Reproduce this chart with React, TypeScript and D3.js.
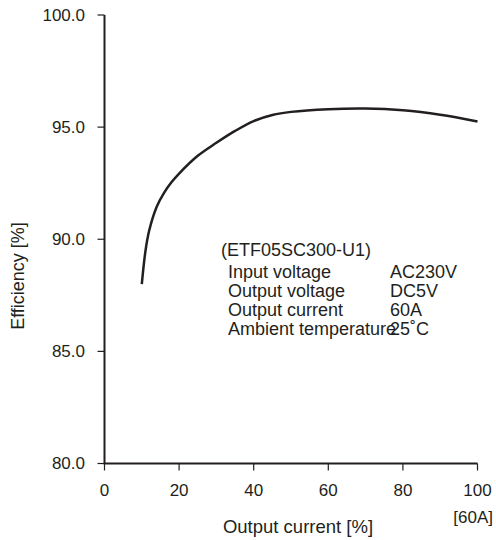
import React from "react";
import * as d3 from "d3";

// load [%] vs efficiency [%]
const load = [10, 11, 12, 14, 16, 18, 20, 25, 30, 35, 40, 45, 50, 60, 70, 80, 90, 100];
const efficiency = [88.0, 89.5, 90.4, 91.45, 92.08, 92.55, 92.93, 93.72, 94.3, 94.83, 95.27, 95.54, 95.68, 95.8, 95.83, 95.75, 95.55, 95.25];

const xTicks = [0, 20, 40, 60, 80, 100];
const yTicks = [80, 85, 90, 95, 100];

const conditions = [
    ["Input voltage", "AC230V"],
    ["Output voltage", "DC5V"],
    ["Output current", "60A"],
    ["Ambient temperature", "25˚C"],
];

const width = 496;
const height = 540;
const ink = "#231f20";
const font = "'Liberation Sans', Arial, sans-serif";

const App = (): JSX.Element => {
    const x = d3.scaleLinear().domain([0, 100]).range([104.5, 477.5]);
    const y = d3.scaleLinear().domain([80, 100]).range([463.5, 15]);

    const line = d3
        .line<number>()
        .x((d, i) => x(load[i]))
        .y((d) => y(d))
        .curve(d3.curveCatmullRom.alpha(0.5));

    return (
        <div style={{ position: "absolute", left: 0, top: 0 }}>
            <svg width={width} height={height} viewBox={`0 0 ${width} ${height}`} fontFamily={font} fill={ink}>
                {/* axes */}
                <path
                    d={`M${x(0)},${y(100)}V${y(80)}H${x(100)}`}
                    fill="none"
                    stroke={ink}
                    strokeWidth={2}
                />
                {yTicks.map((t) => (
                    <g key={t} transform={`translate(0,${y(t)})`}>
                        <line x1={x(0) - 7} x2={x(0)} stroke={ink} strokeWidth={1.2} />
                        <text x={85} dy="0.35em" textAnchor="end" fontSize={17}>
                            {t.toFixed(1)}
                        </text>
                    </g>
                ))}
                {xTicks.map((t) => (
                    <g key={t} transform={`translate(${x(t)},0)`}>
                        <line y1={y(80)} y2={y(80) + 7} stroke={ink} strokeWidth={1.2} />
                        <text y={490} dy="0.35em" textAnchor="middle" fontSize={17}>
                            {t}
                        </text>
                    </g>
                ))}
                <text x={493} y={517} dy="0.35em" textAnchor="end" fontSize={17}>
                    [60A]
                </text>
                <text x={298} y={527} dy="0.35em" textAnchor="middle" fontSize={18.5}>
                    Output current [%]
                </text>
                <text transform="translate(18,276) rotate(-90)" dy="0.35em" textAnchor="middle" fontSize={18}>
                    Efficiency [%]
                </text>

                {/* curve */}
                <path d={line(efficiency) ?? ""} fill="none" stroke={ink} strokeWidth={2.5} />

                {/* conditions */}
                <text x={221} y={250} dy="0.35em" fontSize={18}>
                    (ETF05SC300-U1)
                </text>
                {conditions.map(([k, v], i) => (
                    <g key={k} transform={`translate(0,${272 + i * 19})`}>
                        <text x={228} dy="0.35em" fontSize={18}>
                            {k}
                        </text>
                        <text x={390} dy="0.35em" fontSize={18}>
                            {v}
                        </text>
                    </g>
                ))}
            </svg>
        </div>
    );
};

export default App;
